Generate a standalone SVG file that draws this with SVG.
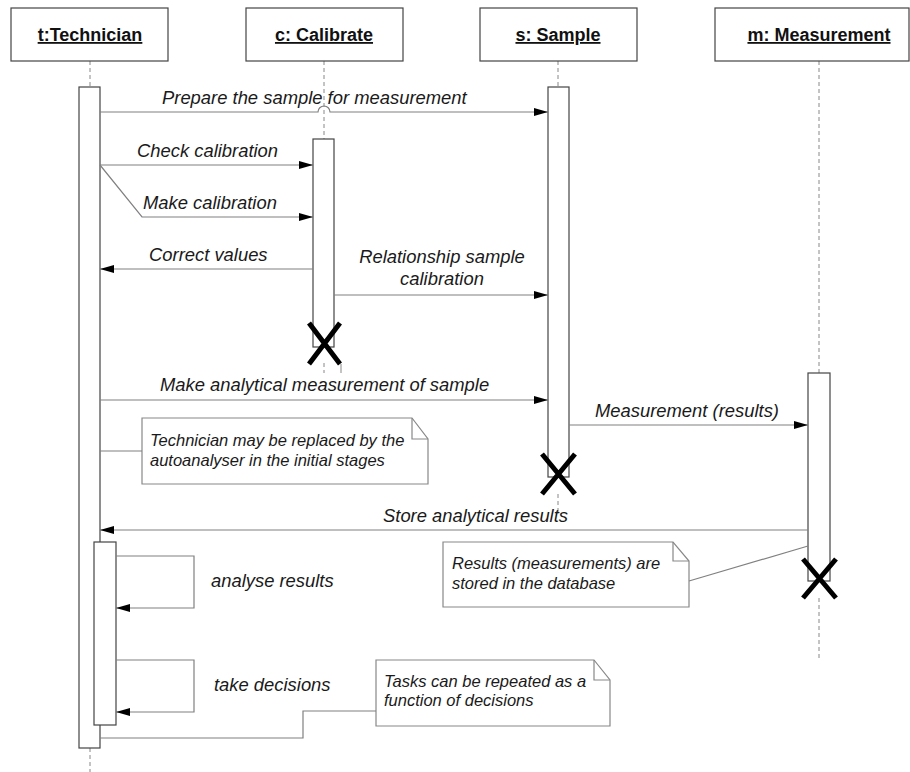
<svg xmlns="http://www.w3.org/2000/svg" width="910" height="772" viewBox="0 0 910 772">
<defs>
<marker id="arr" markerUnits="userSpaceOnUse" markerWidth="15" markerHeight="9" refX="14" refY="4" orient="auto">
<path d="M0,0 L14,4 L0,8 Z" fill="#000"/>
</marker>
<style>
.hdr{fill:#fff;stroke:#444;stroke-width:1.2}
.htxt{font-family:"Liberation Sans",Arial,sans-serif;font-size:18px;font-weight:bold;fill:#111;text-decoration:underline;text-anchor:middle}
.life{stroke:#888;stroke-width:1;stroke-dasharray:4,3;fill:none}
.act{fill:#fff;stroke:#444;stroke-width:1.2}
.msg{stroke:#808080;stroke-width:1.2;fill:none}
.arrow{marker-end:url(#arr)}
.mtxt{font-family:"Liberation Sans",Arial,sans-serif;font-size:18.4px;font-style:italic;fill:#1a1a1a}
.ntxt{font-family:"Liberation Sans",Arial,sans-serif;font-size:16.5px;font-style:italic;fill:#1a1a1a}
.note{fill:#fff;stroke:#888;stroke-width:1.2}
.fold{fill:none;stroke:#888;stroke-width:1.2}
.xmark{stroke:#000;stroke-width:5;fill:none}
</style>
</defs>
<rect width="910" height="772" fill="#fff"/>

<g id="lifelines">
<line class="life" x1="90" y1="61" x2="90" y2="87"/>
<line class="life" x1="90" y1="748" x2="90" y2="772"/>
<line class="life" x1="324" y1="61" x2="324" y2="139"/>
<line class="life" x1="324" y1="363" x2="324" y2="373"/>
<line x1="341" y1="364" x2="341" y2="373" stroke="#888" stroke-width="1"/>
<line class="life" x1="558" y1="61" x2="558" y2="87"/>
<line class="life" x1="558" y1="494" x2="558" y2="514"/>
<line class="life" x1="819" y1="61" x2="819" y2="373"/>
<line class="life" x1="819" y1="598" x2="819" y2="660"/>
</g>

<g id="t-technician">
<rect class="hdr" x="11" y="8" width="157" height="53"/>
<text class="htxt" x="90" y="41">t:Technician</text>
<rect class="act" x="79" y="87" width="21" height="661"/>
<rect class="act" x="94" y="542" width="22" height="183"/>
</g>

<g id="c-calibrate">
<rect class="hdr" x="246" y="8" width="157" height="53"/>
<text class="htxt" x="324" y="41">c: Calibrate</text>
<rect class="act" x="313" y="139" width="21" height="208"/>
<path class="xmark" d="M309,323 L340,364 M340,323 L309,364"/>
</g>

<g id="s-sample">
<rect class="hdr" x="480" y="8" width="157" height="53"/>
<text class="htxt" x="558" y="41">s: Sample</text>
<rect class="act" x="548" y="87" width="21" height="390"/>
<path class="xmark" d="M542,454 L575,494 M575,454 L542,494"/>
</g>

<g id="m-measurement">
<rect class="hdr" x="715" y="8" width="194" height="53"/>
<text class="htxt" x="819" y="41">m: Measurement</text>
<rect class="act" x="808" y="373" width="22" height="208"/>
<path class="xmark" d="M803,559 L836,598 M836,559 L803,598"/>
</g>

<g id="note-technician">
<path class="note" d="M142,418 L412,418 L428,439 L428,484 L142,484 Z"/>
<path class="fold" d="M412,418 L412,439 L428,439"/>
<text class="ntxt" x="150" y="446">Technician may be replaced by the</text>
<text class="ntxt" x="150" y="466">autoanalyser in the initial stages</text>
</g>

<g id="note-results">
<path class="note" d="M443,542 L673,542 L689,561 L689,607 L443,607 Z"/>
<path class="fold" d="M673,542 L673,561 L689,561"/>
<text class="ntxt" x="452" y="569">Results (measurements) are</text>
<text class="ntxt" x="452" y="589">stored in the database</text>
</g>

<g id="note-tasks">
<path class="note" d="M376,660 L594,660 L610,680 L610,726 L376,726 Z"/>
<path class="fold" d="M594,660 L594,680 L610,680"/>
<text class="ntxt" x="384" y="687">Tasks can be repeated as a</text>
<text class="ntxt" x="384" y="706">function of decisions</text>
</g>

<g id="connectors">
<path class="msg arrow" d="M100,112 L318,112 A6,6 0 0 1 330,112 L548,112"/>
<text class="mtxt" x="162" y="104">Prepare the sample for measurement</text>

<path class="msg arrow" d="M100,165 L313,165"/>
<text class="mtxt" x="137" y="157">Check calibration</text>

<path class="msg arrow" d="M100,165 L142,217 L313,217"/>
<text class="mtxt" x="143" y="209">Make calibration</text>

<path class="msg arrow" d="M313,269 L100,269"/>
<text class="mtxt" x="149" y="261">Correct values</text>

<path class="msg arrow" d="M334,295 L548,295"/>
<text class="mtxt" x="442" y="263" text-anchor="middle">Relationship sample</text>
<text class="mtxt" x="442" y="285" text-anchor="middle">calibration</text>

<path class="msg arrow" d="M100,400 L548,400"/>
<text class="mtxt" x="160" y="391">Make analytical measurement of sample</text>

<path class="msg" d="M100,451 L142,451"/>

<path class="msg arrow" d="M569,425 L808,425"/>
<text class="mtxt" x="595" y="417">Measurement (results)</text>

<path class="msg arrow" d="M808,530 L100,530"/>
<text class="mtxt" x="383" y="522">Store analytical results</text>

<path class="msg" d="M689,581 L808,546"/>

<path class="msg arrow" d="M116,556 L194,556 L194,608 L116,608"/>
<text class="mtxt" x="211" y="587">analyse results</text>

<path class="msg arrow" d="M116,660 L194,660 L194,712 L116,712"/>
<text class="mtxt" x="214" y="691">take decisions</text>

<path class="msg" d="M376,711 L303,711 L303,738 L100,738"/>
</g>
</svg>
